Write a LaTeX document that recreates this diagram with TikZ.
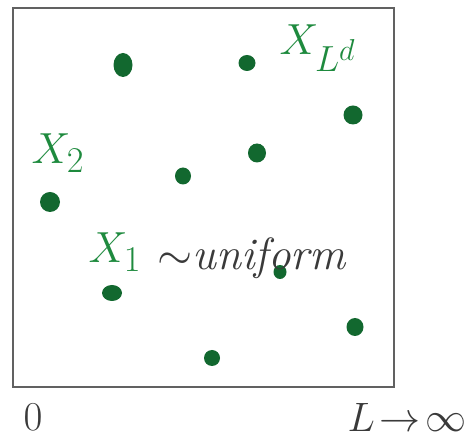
\documentclass[tikz,border=0pt]{standalone}
\usepackage{xcolor}
\usepackage{amsmath}
\usetikzlibrary{positioning,shapes.geometric}
\definecolor{dotc}{HTML}{12682F}
\definecolor{labc}{HTML}{1E8A3E}
\definecolor{inkc}{HTML}{3A3A3A}
\tikzset{
  pt/.style={ellipse, fill=dotc, draw=none, inner sep=0pt},
  lab/.style={text=labc, font=\Huge, scale=1.75, inner sep=0pt},
  ink/.style={text=inkc, font=\Huge, scale=1.65, inner sep=0pt},
}

\begin{document}
\begin{tikzpicture}[x=1pt, y=1pt]
  \useasboundingbox (0,0) rectangle (470,438);
  \draw[inkc!80, line width=1.6pt] (13,51) rectangle (394,430);

  \foreach \n/\x/\y/\w/\h in {1/123/373/19/24, 2/247/375/17/16, 3/353/323/19/19,
      4/257/285/18/19, 5/183/262/16/17, 6/50/236/20/20, 7/112/145/20/16,
      8/280/166/13/14, 9/355/111/17/18, 10/212/80/16/16}
    \node[pt, minimum width=\w pt, minimum height=\h pt] (p\n) at (\x,\y) {};

  \node[lab] (xld) at (318,390) {$X_{L^d}$};
  \node[lab] (x2) at (58,285) {$X_2$};
  \node[lab] (x1) at (115,186) {$X_1$};
  \node[ink, scale=1.1] (unif) at (252,180) {$\sim$\textit{uniform}};

  \node[ink] (zero) at (33,21) {$0$};
  \node[ink] (lim) at (407,21) {$L\!\to\!\infty$};
\end{tikzpicture}
\end{document}
